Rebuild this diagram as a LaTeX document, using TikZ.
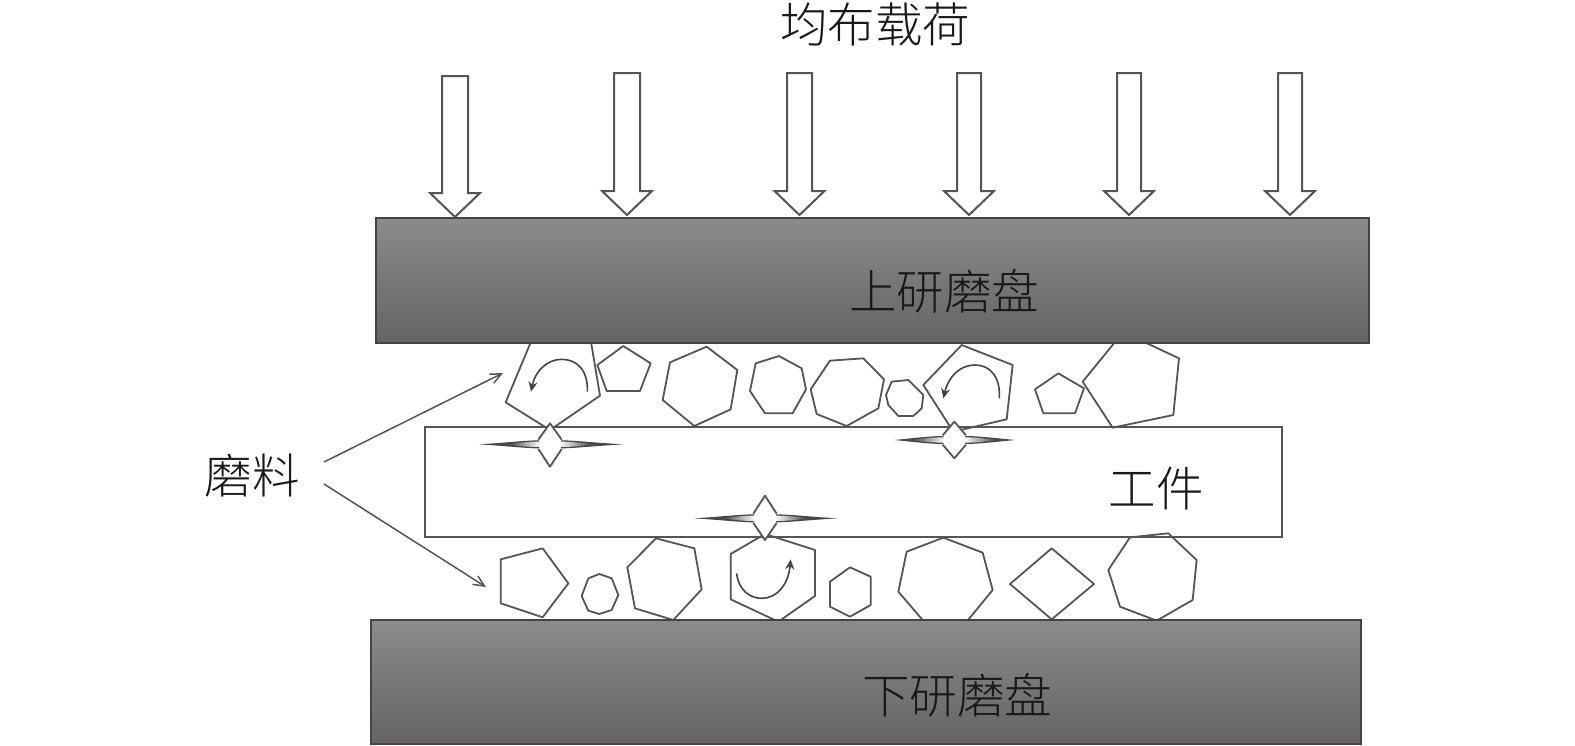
\documentclass[tikz,border=0pt]{standalone}
\usepackage{fontspec}
\newfontfamily\cjk[UprightFont=* Light]{Noto Sans CJK SC}
\usetikzlibrary{arrows.meta}
\definecolor{ln}{HTML}{555555}
\definecolor{plateTop}{HTML}{8C8A8B}
\definecolor{plateBot}{HTML}{656364}
\tikzset{
  grain/.style={draw=ln,line width=1.8pt,line join=round,fill=white},
  plate/.style={draw=ln!80!black,line width=1.6pt,top color=plateTop,bottom color=plateBot,shading angle=0},
  work/.style={draw=ln,line width=1.9pt,fill=white},
  load/.style={draw=ln,line width=2pt,fill=white,line join=miter},
  turn/.style={draw=ln!80!black,line width=1.6pt,-{Stealth[length=10pt,width=9pt]}},
  pointer/.style={draw=ln,line width=1.5pt,-{Straight Barb[length=11pt,width=10pt]}},
  lab/.style={font=\cjk\fontsize{47.5}{47.5}\selectfont,text=black!90,inner sep=0pt},
  zoomA/.style={shift={(360,330)},x=0.33333pt,y=-0.33333pt},
  zoomB/.style={shift={(780,330)},x=0.33333pt,y=-0.33333pt},
}
% centre x, centre y, left tip, right tip, top tip, bottom tip (zoom units)
\newcommand{\crackstar}[6]{%
  \fill[white] (#1,#5) -- (#1+35,#2-14) -- (#1+35,#2+14) -- (#1,#6) -- (#1-35,#2+14) -- (#1-35,#2-14) -- cycle;
  \fill[ln!85!black] (#3,#2) .. controls (#1-120,#2-6) and (#1-70,#2-12) .. (#1-33,#2-12) -- (#1-33,#2+12) .. controls (#1-70,#2+12) and (#1-120,#2+6) .. (#3,#2) -- cycle;
  \fill[ln!85!black] (#4,#2) .. controls (#1+120,#2-6) and (#1+70,#2-12) .. (#1+33,#2-12) -- (#1+33,#2+12) .. controls (#1+70,#2+12) and (#1+120,#2+6) .. (#4,#2) -- cycle;
  \shade[left color=ln!85!black,right color=white] (#1-125,#2) .. controls (#1-100,#2-4) and (#1-70,#2-8) .. (#1-30,#2-8) -- (#1-30,#2+8) .. controls (#1-70,#2+8) and (#1-100,#2+4) .. (#1-125,#2) -- cycle;
  \shade[right color=ln!85!black,left color=white] (#1+125,#2) .. controls (#1+100,#2-4) and (#1+70,#2-8) .. (#1+30,#2-8) -- (#1+30,#2+8) .. controls (#1+70,#2+8) and (#1+100,#2+4) .. (#1+125,#2) -- cycle;
  \draw[grain,fill=none] (#1-35,#2-14) -- (#1,#5) -- (#1+35,#2-14);
  \draw[grain,fill=none] (#1-35,#2+14) -- (#1,#6) -- (#1+35,#2+14);
}
\newcommand{\loadarrow}[4]{% left, right, top, tip y
  \draw[load] (#1,#3) -- (#2,#3) -- (#2,#4-24) -- ({(#1+#2)/2+25},#4-24) -- ({(#1+#2)/2},#4) -- ({(#1+#2)/2-25},#4-24) -- (#1,#4-24) -- cycle;
}
\begin{document}
\begin{tikzpicture}[x=1pt,y=-1pt]
\useasboundingbox (0,0) rectangle (1575,745);

% load arrows
\loadarrow{442}{468}{76}{217}
\loadarrow{614}{640}{73}{215}
\loadarrow{787}{812}{73}{215}
\loadarrow{957}{981}{73}{215}
\loadarrow{1117}{1141}{73}{215}
\loadarrow{1278}{1302}{73}{215}

% workpiece
\draw[work] (425,427) rectangle (1282,537);

% grains, top row and bottom row (left part)
\begin{scope}[zoomA]
  \draw[grain,fill=none] (437,217) -- (515,30) -- (692,30) -- (720,197) -- (570,300) -- cycle;
  \draw[grain,fill=none] (790,48) -- (872,100) -- (840,183) -- (740,183) -- (712,105) -- cycle;
  \draw[grain,fill=none] (1040,50) -- (1132,120) -- (1112,238) -- (1003,288) -- (908,210) -- (930,97) -- cycle;
  \draw[grain,fill=none] (1170,183) -- (1187,100) -- (1257,78) -- (1325,115) -- (1338,178) -- (1298,250) -- (1215,250) -- cycle;
  \draw[grain,fill=none] (422,688) -- (548,655) -- (625,760) -- (548,862) -- (422,820) -- cycle;
  \draw[grain,fill=none] (665,798) -- (685,745) -- (718,732) -- (755,745) -- (775,795) -- (755,840) -- (718,852) -- (685,842) -- cycle;
  \draw[grain,fill=none] (888,625) -- (1003,655) -- (1025,778) -- (940,870) -- (825,835) -- (802,712) -- cycle;
  \draw[grain,fill=none] (1112,672) -- (1215,612) -- (1365,660) -- (1365,798) -- (1255,875) -- (1112,808) -- cycle;
\end{scope}

% grains (right part)
\begin{scope}[zoomB]
  \draw[grain,fill=none] (92,178) -- (150,92) -- (250,85) -- (312,148) -- (295,235) -- (200,288) -- (110,252) -- cycle;
  \draw[grain,fill=none] (318,195) -- (335,155) -- (385,150) -- (430,195) -- (425,235) -- (400,258) -- (355,258) -- (325,225) -- cycle;
  \draw[grain,fill=none] (430,165) -- (545,45) -- (698,105) -- (680,268) -- (520,305) -- cycle;
  \draw[grain,fill=none] (765,178) -- (835,130) -- (912,175) -- (885,250) -- (790,250) -- cycle;
  \draw[grain,fill=none] (908,155) -- (1010,30) -- (1080,30) -- (1197,85) -- (1180,255) -- (998,293) -- cycle;
  \draw[grain,fill=none] (210,712) -- (272,740) -- (272,825) -- (210,860) -- (150,830) -- (150,755) -- cycle;
  \draw[grain,fill=none] (490,623) -- (608,668) -- (638,780) -- (560,875) -- (432,875) -- (355,785) -- (380,665) -- cycle;
  \draw[grain,fill=none] (815,655) -- (942,762) -- (815,868) -- (690,762) -- cycle;
  \draw[grain,fill=none] (1050,622) -- (1165,610) -- (1250,690) -- (1238,810) -- (1130,872) -- (1020,830) -- (985,720) -- cycle;
  \draw[turn] (658,205) .. controls (662,140) and (630,105) .. (585,105) .. controls (540,105) and (505,140) .. (490,205);
  \crackstar{523}{330}{343}{706}{275}{385}
\end{scope}

\begin{scope}[zoomA]
  \draw[turn] (682,185) .. controls (685,120) and (650,88) .. (605,88) .. controls (560,88) and (525,125) .. (513,185);
  \draw[turn] (1130,730) .. controls (1135,780) and (1170,805) .. (1205,805) .. controls (1250,805) and (1285,765) .. (1292,688);
  \crackstar{570}{343}{358}{790}{280}{410}
  \crackstar{1215}{565}{1003}{1432}{497}{630}
\end{scope}

% plates
\draw[plate] (376,218) rectangle (1369,343);
\draw[plate] (371,620) rectangle (1361,744);

% texts
\node[lab] (load) at (875,24) {均布载荷};
\node[lab] (upper) at (944,291) {上研磨盘};
\node[lab] (lower) at (957,695) {下研磨盘};
\node[lab] (piece) at (1156,489) {工件};
\node[lab] (abr) at (252,476) {磨料};

% pointers
\coordinate (pa) at (503,373);
\coordinate (pb) at (486,587);
\coordinate (sa) at (324,462);
\coordinate (sb) at (324,484);
\draw[pointer] (sa) -- (pa);
\draw[pointer] (sb) -- (pb);
\end{tikzpicture}
\end{document}
